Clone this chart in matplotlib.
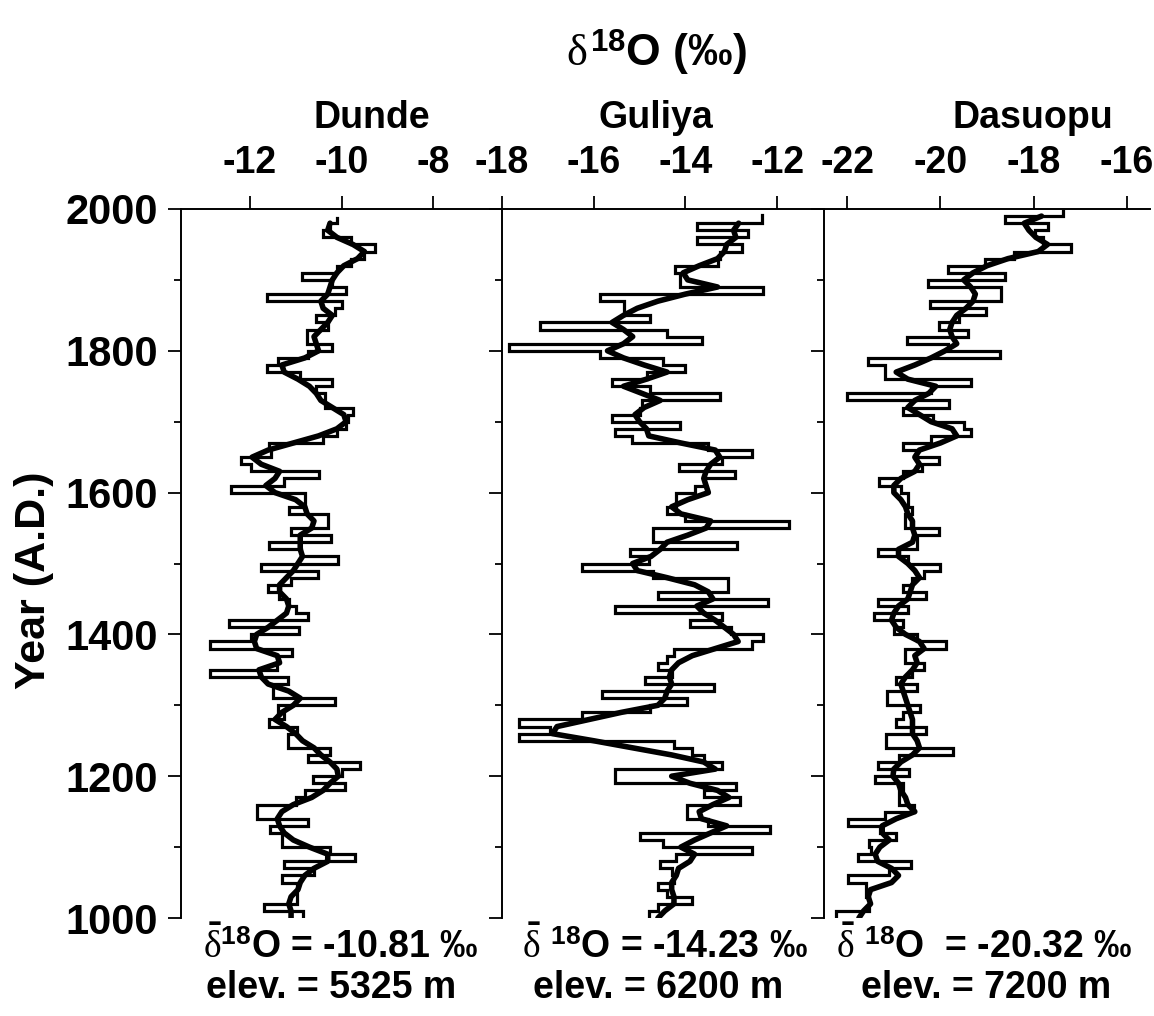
import numpy as np
import matplotlib
matplotlib.use("Agg")
import matplotlib.pyplot as plt
from matplotlib.ticker import MultipleLocator

plt.rcParams['font.family'] = ['Liberation Sans', 'DejaVu Sans']
plt.rcParams['font.weight'] = 'bold'
plt.rcParams['axes.unicode_minus'] = False
plt.rcParams['mathtext.fontset'] = 'custom'
plt.rcParams['mathtext.rm'] = 'Liberation Sans:weight=bold'
plt.rcParams['mathtext.bf'] = 'Liberation Sans:weight=bold'
plt.rcParams['mathtext.it'] = 'Liberation Serif:weight=normal'

# decadal values (decade start years), last decade ends at the core top year
dunde_years = list(range(1000, 1990, 10))
dunde_top = 1987
dunde_dec = [
    -10.85, -11.70, -10.96, -10.96, -10.96, -11.30, -10.60, -11.25, -9.70, -10.25,
    -11.30, -11.30, -11.55, -10.72, -11.85, -11.85, -11.00, -10.80, -9.93, -10.63,
    -10.00, -9.60, -10.74, -10.26, -11.17, -11.17, -10.96, -11.58, -11.25, -11.39,
    -10.14, -11.50, -11.50, -11.17, -12.87, -11.40, -11.40, -11.07, -12.86, -11.98,
    -10.92, -12.45, -10.74, -11.00, -11.15, -11.36, -11.61, -11.10, -10.52, -11.76,
    -10.08, -10.88, -11.58, -10.22, -11.10, -10.30, -10.30, -11.15, -10.80, -10.80,
    -12.42, -11.25, -10.48, -11.98, -12.20, -11.54, -11.58, -10.40, -10.10, -9.90,
    -9.85, -9.75, -10.35, -10.35, -10.55, -10.21, -10.90, -11.63, -11.39, -10.74,
    -10.21, -10.75, -10.75, -10.30, -10.55, -10.15, -10.00, -11.63, -9.90, -10.20,
    -10.87, -10.10, -9.80, -9.50, -9.26, -9.80, -10.40, -10.25, -10.10]
dunde_smooth = [
    -11.10, -11.10, -11.15, -11.10, -10.95, -10.90, -10.80, -10.60, -10.30, -10.30,
    -10.70, -11.05, -11.25, -11.35, -11.40, -11.30, -11.05, -10.65, -10.40, -10.25,
    -10.07, -10.10, -10.25, -10.45, -10.60, -10.85, -11.00, -11.20, -11.45, -11.30,
    -11.05, -10.90, -11.15, -11.60, -11.75, -11.80, -11.35, -11.40, -11.85, -11.90,
    -11.85, -11.60, -11.40, -11.20, -11.15, -11.20, -11.35, -11.35, -11.20, -11.05,
    -10.95, -10.85, -10.90, -10.90, -10.90, -10.65, -10.60, -10.75, -10.80, -11.00,
    -11.45, -11.65, -11.45, -11.35, -11.75, -11.95, -11.60, -11.05, -10.50, -10.10,
    -9.90, -9.95, -10.20, -10.45, -10.55, -10.70, -10.95, -11.25, -11.30, -10.80,
    -10.50, -10.55, -10.60, -10.45, -10.30, -10.20, -10.40, -10.45, -10.30, -10.25,
    -10.20, -10.10, -9.95, -9.65, -9.50, -9.75, -10.10, -10.30, -10.25]

guliya_years = list(range(1000, 1990, 10))
guliya_top = 1991
guliya_dec = [
    -14.80, -14.60, -13.86, -14.40, -14.60, -14.25, -14.30, -14.55, -14.20, -12.55,
    -14.48, -14.99, -12.15, -13.50, -13.97, -13.97, -12.81, -13.60, -12.90, -15.53,
    -15.53, -13.21, -13.60, -13.86, -14.26, -17.62, -16.95, -17.62, -16.26, -14.77,
    -13.97, -15.83, -13.37, -14.88, -14.30, -14.60, -14.40, -14.26, -12.55, -12.30,
    -13.00, -13.90, -13.20, -15.53, -12.19, -14.59, -13.08, -13.08, -14.70, -16.26,
    -14.80, -15.21, -12.88, -14.70, -14.70, -11.75, -14.00, -14.41, -14.20, -14.20,
    -13.80, -13.60, -12.92, -14.15, -13.20, -12.55, -13.50, -15.17, -15.53, -14.12,
    -15.61, -15.00, -14.95, -13.24, -14.77, -15.61, -14.84, -14.01, -14.48, -15.86,
    -17.84, -13.64, -14.41, -17.17, -14.77, -15.35, -15.35, -15.86, -12.30, -14.12,
    -14.12, -14.23, -13.30, -13.24, -12.77, -13.75, -12.63, -13.75, -12.33]
guliya_smooth = [
    -14.60, -14.45, -14.25, -14.25, -14.30, -14.30, -14.20, -14.15, -13.90, -13.80,
    -14.10, -13.80, -13.45, -13.10, -13.65, -13.70, -13.40, -13.05, -13.30, -13.90,
    -14.30, -13.35, -13.60, -14.30, -15.15, -16.00, -16.90, -16.80, -16.10, -15.40,
    -14.60, -14.45, -14.40, -14.30, -14.35, -14.30, -14.15, -13.85, -13.35, -12.85,
    -12.95, -13.15, -13.35, -13.60, -13.75, -13.40, -13.50, -13.80, -14.40, -15.05,
    -15.15, -14.75, -14.55, -14.40, -13.95, -13.55, -13.45, -14.10, -14.30, -13.95,
    -13.50, -13.55, -13.60, -13.55, -13.45, -13.25, -13.35, -14.10, -14.80, -14.85,
    -15.00, -15.10, -14.90, -14.55, -14.95, -15.35, -14.85, -14.40, -14.90, -15.35,
    -15.70, -15.35, -15.15, -15.35, -15.60, -15.35, -15.05, -14.60, -14.00, -13.30,
    -13.95, -14.05, -13.70, -13.30, -13.15, -13.10, -12.90, -12.95, -12.84]

dasuopu_years = list(range(1000, 2000, 10))
dasuopu_top = 1997
dasuopu_dec = [
    -22.24, -21.53, -21.53, -21.60, -21.60, -21.99, -21.10, -20.63, -21.78, -21.50,
    -21.53, -20.95, -21.30, -21.99, -21.20, -20.56, -20.90, -20.90, -20.80, -21.40,
    -20.67, -21.35, -20.90, -19.73, -21.16, -21.16, -20.30, -20.95, -20.80, -20.43,
    -21.15, -21.15, -20.50, -20.96, -20.60, -20.36, -20.77, -20.77, -19.88, -20.50,
    -21.00, -20.80, -21.42, -20.70, -21.34, -20.30, -20.81, -20.60, -20.36, -20.00,
    -20.70, -21.35, -20.50, -20.50, -20.04, -20.77, -20.77, -20.60, -20.70, -20.70,
    -20.84, -21.31, -20.80, -20.40, -20.02, -20.50, -20.80, -20.20, -19.34, -19.50,
    -20.15, -20.80, -19.81, -22.00, -20.20, -19.34, -21.20, -21.20, -21.56, -18.73,
    -19.84, -20.72, -19.40, -20.02, -19.60, -19.02, -20.23, -18.70, -18.70, -20.27,
    -18.61, -19.84, -19.05, -18.41, -17.19, -17.80, -17.97, -17.69, -18.61, -17.37]
dasuopu_smooth = [
    -21.75, -21.65, -21.50, -21.55, -21.50, -21.05, -20.90, -21.05, -21.35, -21.40,
    -21.30, -21.10, -21.25, -21.25, -20.95, -20.55, -20.70, -20.75, -20.85, -20.90,
    -21.02, -21.00, -20.85, -20.60, -20.45, -20.50, -20.60, -20.60, -20.60, -20.65,
    -20.70, -20.75, -20.80, -20.85, -20.75, -20.60, -20.50, -20.55, -20.35, -20.45,
    -20.75, -20.95, -21.05, -21.00, -20.90, -20.70, -20.65, -20.60, -20.45, -20.55,
    -20.70, -20.90, -20.90, -20.60, -20.55, -20.60, -20.60, -20.70, -20.75, -20.85,
    -21.00, -21.00, -20.85, -20.55, -20.45, -20.55, -20.45, -20.00, -19.65, -19.75,
    -20.20, -20.45, -20.70, -20.55, -20.25, -20.10, -20.70, -20.95, -20.55, -20.20,
    -19.90, -19.65, -19.75, -19.80, -19.75, -19.65, -19.45, -19.30, -19.25, -19.35,
    -19.50, -19.30, -19.00, -18.55, -17.90, -17.70, -17.95, -18.10, -18.20, -17.83]

names = ['Dunde', 'Guliya', 'Dasuopu']
xlims = [(-13.5, -6.5), (-18, -11), (-22.5, -15.5)]
xticks = [[-12, -10, -8], [-18, -16, -14, -12], [-22, -20, -18, -16]]
mean_labels = [r'$\bar{\delta}^{18}$O = -10.81 ‰',
               r'$\bar{\delta}$ $^{18}$O = -14.23 ‰',
               r'$\bar{\delta}$ $^{18}$O  = -20.32 ‰']
elev_labels = ['elev. = 5325 m', 'elev. = 6200 m', 'elev. = 7200 m']

W, H = 1154, 1016
fig = plt.figure(figsize=(W / 100, H / 100), dpi=100)

# panel rectangles in pixels: left, right
panel_px = [(181, 502), (502, 823), (824, 1150)]
top_px, bot_px = 209, 918

series = [
    (dunde_years, dunde_dec, dunde_top, dunde_smooth),
    (guliya_years, guliya_dec, guliya_top, guliya_smooth),
    (dasuopu_years, dasuopu_dec, dasuopu_top, dasuopu_smooth),
]

for i, (yrs, dec, top, smooth) in enumerate(series):
    l, r = panel_px[i]
    ax = fig.add_axes([l / W, 1 - bot_px / H, (r - l) / W, (bot_px - top_px) / H])
    edges = list(yrs) + [top]
    vals = list(dec) + [dec[-1]]
    ax.plot(vals, edges, drawstyle='steps-pre', color='black', lw=2.3,
            solid_joinstyle='miter', zorder=2)
    ax.plot(smooth, yrs, color='black', lw=4.0, solid_capstyle='round',
            solid_joinstyle='round', zorder=3)

    ax.set_xlim(*xlims[i])
    ax.set_ylim(1000, 2000)
    ax.xaxis.tick_top()
    ax.set_xticks(xticks[i])
    ax.tick_params(axis='x', which='major', direction='out', length=9.5,
                   width=1.3, pad=11, labelsize=27)
    ax.yaxis.set_major_locator(MultipleLocator(200))
    ax.yaxis.set_minor_locator(MultipleLocator(100))
    ax.tick_params(axis='y', which='major', direction='out', length=9.5,
                   width=1.3, pad=7, labelsize=30, labelleft=(i == 0))
    ax.tick_params(axis='y', which='minor', direction='out', length=5, width=1.3)
    for s in ['right', 'bottom']:
        ax.spines[s].set_visible(False)
    for s in ['left', 'top']:
        ax.spines[s].set_linewidth(1.4)
    ax.patch.set_alpha(0)

# titles
fig.text(656 / W, 1 - 66 / H, r'$\delta^{18}$O (‰)', ha='center', va='baseline', fontsize=32)
name_x = [372, 656, 1033]
for nx, nm in zip(name_x, names):
    fig.text(nx / W, 1 - 128 / H, nm, ha='center', va='baseline', fontsize=27)

fig.text(34 / W, 1 - 580 / H, 'Year (A.D.)', rotation=90, ha='center', va='center',
         fontsize=31)

mean_x = [341, 665, 984]
elev_x = [331, 658, 986]
for k in range(3):
    fig.text(mean_x[k] / W, 1 - 958 / H, mean_labels[k], ha='center', va='baseline',
             fontsize=27)
    fig.text(elev_x[k] / W, 1 - 998 / H, elev_labels[k], ha='center', va='baseline',
             fontsize=27)

fig.savefig('out.png', dpi=100)
